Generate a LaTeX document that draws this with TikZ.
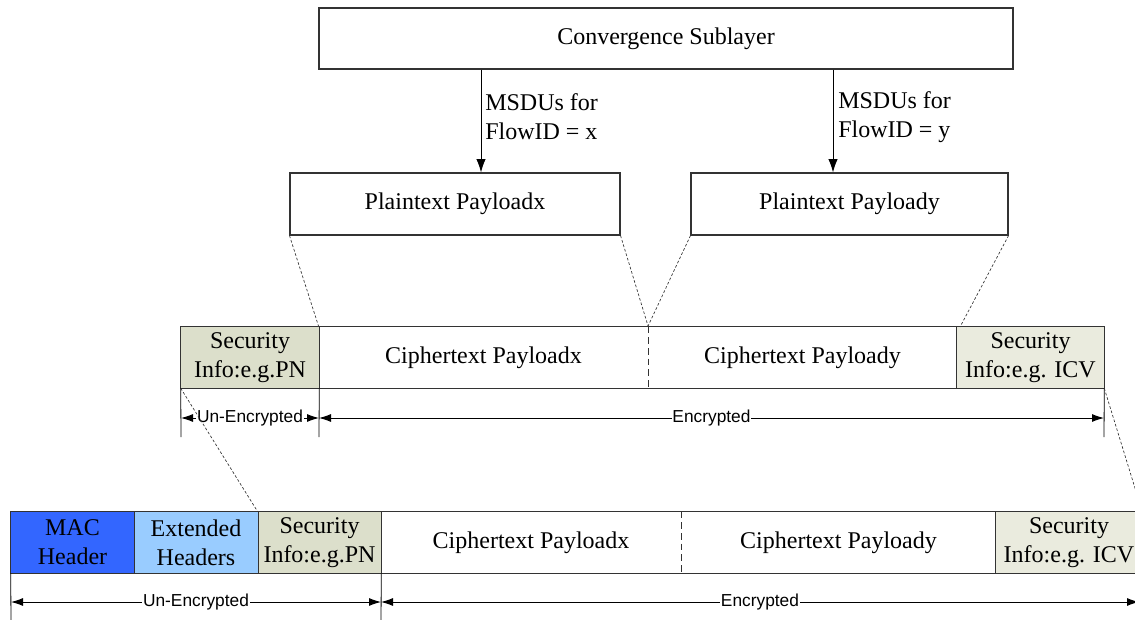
\documentclass[tikz,border=0pt]{standalone}
\usepackage{fontspec}
\setmainfont{Liberation Serif}
\newfontfamily\labelsans{Liberation Sans}
\usetikzlibrary{arrows.meta}

\definecolor{macblue}{HTML}{3366FF}
\definecolor{extblue}{HTML}{99CCFF}
\definecolor{secpn}{HTML}{DCDFCB}
\definecolor{secicv}{HTML}{EAEBDE}
\definecolor{edge}{HTML}{333333}

\tikzset{
  wh/.style 2 args={minimum width=#1*0.75pt, minimum height=#2*0.75pt},
  boxtext/.style={font=\fontsize{18}{21.75}\selectfont, align=center, inner sep=0pt},
  block/.style={boxtext, draw=edge, line width=0.8pt},
  cell/.style={boxtext},
  outline/.style={draw=edge, line width=0.8pt},
  divider/.style={draw=edge, line width=0.8pt},
  softdiv/.style={draw=edge, line width=0.8pt, dash pattern=on 5pt off 3pt},
  zoomline/.style={draw=black!80, line width=0.5pt, dash pattern=on 2pt off 1.5pt},
  flow/.style={draw=black, line width=0.7pt, -{Latex[length=10pt,width=7pt]}},
  tick/.style={draw=black, line width=0.6pt},
  span/.style={draw=black, line width=0.7pt, {Latex[length=9pt,width=6pt]}-{Latex[length=9pt,width=6pt]}},
  spanlabel/.style={fill=white, inner sep=0.4pt, font=\labelsans\fontsize{13}{15}\selectfont},
  flowlabel/.style={anchor=west, align=left, inner sep=0pt, font=\fontsize{18}{21.75}\selectfont},
}

\begin{document}
\begin{tikzpicture}[x=0.75pt, y=-0.75pt]
\useasboundingbox (0,0) rectangle (1135,620);

% upper layer and the two plaintext payloads
\node[block, wh={694}{61}] (cs) at (666,38.5) {Convergence Sublayer};
\node[block, wh={330}{62}] (ppx) at (455,204) {Plaintext Payloadx};
\node[block, wh={317}{62}] (ppy) at (849.5,204) {Plaintext Payloady};

\coordinate (fx) at (481,0);
\coordinate (fy) at (833,0);
\draw[flow] (cs.south -| fx) -- (ppx.north -| fx);
\draw[flow] (cs.south -| fy) -- (ppy.north -| fy);
\node[flowlabel] (lx) at (485,117) {MSDUs for\\FlowID = x};
\node[flowlabel] (ly) at (838,117) {MSDUs for\\FlowID = y};

% encrypted payload
\node[cell, fill=secpn,  wh={138}{61}] (mpn)  at (250,357.5)   {Security\\Info:e.g.PN};
\node[cell,              wh={329}{61}] (mcx)  at (483.5,357.5) {Ciphertext Payloadx};
\node[cell,              wh={309}{61}] (mcy)  at (802.5,357.5) {Ciphertext Payloady};
\node[cell, fill=secicv, wh={147}{61}] (micv) at (1030.5,357.5) {Security\\Info:e.g. ICV};
\draw[outline] (mpn.north west) rectangle (micv.south east);
\draw[divider] (mpn.north east) -- (mpn.south east);
\draw[softdiv] (mcx.north east) -- (mcx.south east);
\draw[divider] (micv.north west) -- (micv.south west);

% mapping of plaintext onto ciphertext
\draw[zoomline] (ppx.south west) -- (mcx.north west);
\draw[zoomline] (ppx.south east) -- (mcx.north east);
\draw[zoomline] (ppy.south west) -- (mcy.north west);
\coordinate (icvin) at (960,327);
\draw[zoomline] (ppy.south east) -- (icvin);

% extent markers of the payload
\coordinate (t1) at (181,437);
\coordinate (t2) at (319,437);
\coordinate (t3) at (1104,437);
\draw[tick] (mpn.south west) -- (t1);
\draw[tick] (mpn.south east) -- (t2);
\draw[tick] (micv.south east) -- (t3);
\coordinate (a1) at (181,418);
\coordinate (a2) at (319,418);
\coordinate (a3) at (1104,418);
\draw[span] (a1) -- node[spanlabel] (ue1) {Un-Encrypted} (a2);
\draw[span] (a2) -- node[spanlabel] (en1) {Encrypted} (a3);

% complete frame
\node[cell, fill=macblue, wh={123}{61}] (mac)  at (72.5,542.5) {MAC\\Header};
\node[cell, fill=extblue, wh={124}{61}] (ext)  at (196,542.5)  {Extended\\Headers};
\node[cell, fill=secpn,   wh={123}{61}] (bpn)  at (319.5,542.5) {Security\\Info:e.g.PN};
\node[cell,               wh={300}{61}] (bcx)  at (531,542.5)  {Ciphertext Payloadx};
\node[cell,               wh={315}{61}] (bcy)  at (838.5,542.5) {Ciphertext Payloady};
\node[cell, fill=secicv,  wh={146}{61}] (bicv) at (1069,542.5) {Security\\Info:e.g. ICV};
\draw[outline] (mac.north west) rectangle (bicv.south east);
\draw[divider] (mac.north east) -- (mac.south east);
\draw[divider] (ext.north east) -- (ext.south east);
\draw[divider] (bpn.north east) -- (bpn.south east);
\draw[softdiv] (bcx.north east) -- (bcx.south east);
\draw[divider] (bicv.north west) -- (bicv.south west);

% mapping of the payload into the frame
\draw[zoomline] (mpn.south west) -- (bpn.north west);
\draw[zoomline] (micv.south east) -- (bicv.north east);

% extent markers of the frame
\coordinate (b1) at (11,625);
\coordinate (b2) at (381,625);
\draw[tick] (mac.south west) -- (b1);
\draw[tick] (bpn.south east) -- (b2);
\coordinate (c1) at (11,602);
\coordinate (c2) at (381,602);
\coordinate (c3) at (1139,602);
\draw[span] (c1) -- node[spanlabel] (ue2) {Un-Encrypted} (c2);
\draw[span] (c2) -- node[spanlabel, pos=0.5] (en2) {Encrypted} (c3);
\end{tikzpicture}
\end{document}
